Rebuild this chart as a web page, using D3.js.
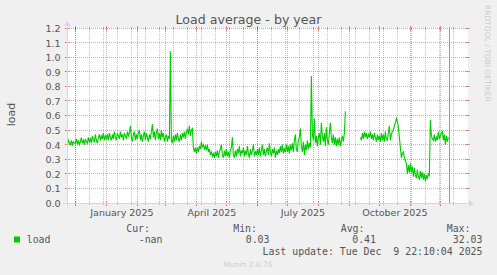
<!DOCTYPE html>
<html>
<head>
<meta charset="utf-8">
<script src="https://cdnjs.cloudflare.com/ajax/libs/d3/7.8.5/d3.min.js"></script>
<style>
  body { margin: 0; background: #f0f0f0; }
  svg { display: block; }
  text { font-family: "DejaVu Sans", sans-serif; fill: #555; }
  text.mono { font-family: "DejaVu Sans Mono", monospace; white-space: pre; }
</style>
</head>
<body>
<div id="chart"></div>
<script>
// daily load average, one array per month (null = no data)
const nov2024 = [0.44, 0.40, 0.43, 0.41, 0.40, 0.43, 0.40, 0.42, 0.41]; // from the 22nd
const dec2024 = [0.41, 0.44, 0.40, 0.43, 0.40, 0.42, 0.45, 0.41, 0.43, 0.40, 0.44, 0.42, 0.41, 0.45, 0.42,
  0.44, 0.41, 0.46, 0.43, 0.42, 0.47, 0.43, 0.41, 0.45, 0.47, 0.43, 0.46, 0.44, 0.48, 0.43, 0.46];
const jan2025 = [0.44, 0.47, 0.43, 0.48, 0.45, 0.43, 0.47, 0.44, 0.49, 0.45, 0.43, 0.48, 0.46, 0.44, 0.49,
  0.45, 0.47, 0.43, 0.48, 0.46, 0.44, 0.49, 0.46, 0.48, 0.53, 0.45, 0.42, 0.47, 0.49, 0.43, 0.47];
const feb2025 = [0.44, 0.48, 0.50, 0.43, 0.47, 0.42, 0.46, 0.49, 0.43, 0.48, 0.45, 0.42, 0.47, 0.44,
  0.49, 0.54, 0.45, 0.49, 0.43, 0.48, 0.51, 0.44, 0.48, 0.43, 0.50, 0.45, 0.48, 0.42];
const mar2025 = [0.45, 0.47, 0.42, 0.46, 0.44, 1.04, 0.43, 0.41, 0.46, 0.42, 0.47, 0.43, 0.48, 0.44, 0.42,
  0.47, 0.43, 0.48, 0.45, 0.49, 0.44, 0.48, 0.51, 0.47, 0.53, 0.46, 0.50, 0.51, 0.38, 0.35, 0.38];
const apr2025 = [0.34, 0.38, 0.35, 0.39, 0.37, 0.42, 0.38, 0.40, 0.37, 0.39, 0.36, 0.40, 0.35, 0.37, 0.33,
  0.35, 0.32, 0.34, 0.31, 0.35, 0.32, 0.36, 0.31, 0.35, 0.37, 0.40, 0.33, 0.31, 0.36, 0.32];
const may2025 = [0.37, 0.32, 0.35, 0.31, 0.36, 0.38, 0.45, 0.33, 0.31, 0.36, 0.32, 0.37, 0.34, 0.39, 0.32,
  0.36, 0.34, 0.38, 0.32, 0.36, 0.33, 0.39, 0.34, 0.31, 0.37, 0.33, 0.36, 0.40, 0.32, 0.35, 0.33];
const jun2025 = [0.37, 0.33, 0.38, 0.32, 0.36, 0.40, 0.33, 0.37, 0.32, 0.36, 0.38, 0.33, 0.41, 0.35, 0.32,
  0.37, 0.34, 0.38, 0.31, 0.36, 0.33, 0.37, 0.34, 0.39, 0.35, 0.40, 0.34, 0.37, 0.35, 0.40];
const jul2025 = [0.35, 0.39, 0.34, 0.40, 0.36, 0.41, 0.35, 0.43, 0.47, 0.37, 0.35, 0.43, 0.45, 0.51, 0.39,
  0.35, 0.42, 0.33, 0.40, 0.36, 0.43, 0.37, 0.41, 0.38, 0.87, 0.47, 0.43, 0.58, 0.41, 0.46, 0.39];
const aug2025 = [0.45, 0.48, 0.40, 0.55, 0.46, 0.42, 0.48, 0.39, 0.52, 0.43, 0.40, 0.48, 0.55, 0.45, 0.41,
  0.47, 0.40, 0.45, 0.39, 0.44, 0.40, 0.45, 0.39, 0.43, 0.46, 0.42, 0.48, 0.63, null, null, null];
const sep2025 = [null, null, null, null, null, null, null, null, null, null, null, 0.45, 0.43, 0.48, 0.44,
  0.49, 0.45, 0.48, 0.44, 0.47, 0.45, 0.49, 0.44, 0.47, 0.43, 0.48, 0.45, 0.42, 0.47, 0.43];
const oct2025 = [0.46, 0.42, 0.48, 0.43, 0.47, 0.42, 0.49, 0.44, 0.43, 0.48, 0.53, 0.43, 0.47, 0.49, 0.50,
  0.53, 0.55, 0.58, 0.56, 0.52, 0.45, 0.38, 0.31, 0.34, 0.35, 0.31, 0.29, 0.27, 0.20, 0.26, 0.21];
const nov2025 = [0.27, 0.21, 0.25, 0.18, 0.24, 0.19, 0.17, 0.23, 0.18, 0.16, 0.22, 0.17, 0.21, 0.16, 0.20,
  0.15, 0.19, 0.17, 0.20, 0.19, 0.57, 0.46, 0.44, 0.43, 0.47, 0.42, 0.45, 0.43, 0.49, 0.44];
const dec2025 = [0.46, 0.48, 0.49, 0.43, 0.47, 0.40, 0.46, 0.42, 0.45];

const monthStarts = [
  [new Date(2024, 10, 22), nov2024], [new Date(2024, 11, 1), dec2024],
  [new Date(2025, 0, 1), jan2025], [new Date(2025, 1, 1), feb2025],
  [new Date(2025, 2, 1), mar2025], [new Date(2025, 3, 1), apr2025],
  [new Date(2025, 4, 1), may2025], [new Date(2025, 5, 1), jun2025],
  [new Date(2025, 6, 1), jul2025], [new Date(2025, 7, 1), aug2025],
  [new Date(2025, 8, 1), sep2025], [new Date(2025, 9, 1), oct2025],
  [new Date(2025, 10, 1), nov2025], [new Date(2025, 11, 1), dec2025]
];

const yTicks = [0, 0.1, 0.2, 0.3, 0.4, 0.5, 0.6, 0.7, 0.8, 0.9, 1.0, 1.1, 1.2];
const labelMonths = [new Date(2025, 0, 1), new Date(2025, 3, 1), new Date(2025, 6, 1), new Date(2025, 9, 1)];
const legendHead = ['Cur:', 'Min:', 'Avg:', 'Max:'];
const legendVals = ['-nan', '0.03', '0.41', '32.03'];
const lastUpdate = 'Last update: Tue Dec  9 22:10:04 2025';
const now = new Date(2025, 11, 9, 22, 10, 4);

const W = 497, H = 275;
const X0 = 67, X1 = 467, Y0 = 203, Y1 = 28;
const dayMs = 864e5;
const xStart = new Date(+now - 382.3 * dayMs);
const xEnd = new Date(+xStart + 400 * dayMs);

const data = [];
monthStarts.forEach(([start, vals]) => {
  vals.forEach((v, i) => data.push({ date: d3.timeDay.offset(start, i), value: v }));
});

const x = d3.scaleTime().domain([xStart, xEnd]).range([X0, X1]);
const y = d3.scaleLinear().domain([0, 1.2]).range([Y0, Y1]);
const snap = (v) => Math.floor(v) + 0.5;

const svg = d3.select('#chart').append('svg')
  .attr('width', W).attr('height', H);

svg.append('rect').attr('width', W).attr('height', H).attr('fill', '#f0f0f0');
svg.append('rect')
  .attr('x', X0).attr('y', Y1).attr('width', X1 - X0 + 1).attr('height', Y0 - Y1 + 1)
  .attr('fill', '#ffffff');

const minorCol = 'rgba(143,143,143,0.55)';
const majorCol = 'rgba(229,0,0,0.38)';

// minor vertical grid, every two weeks
const minorDates = d3.timeWeek.range(new Date(2024, 10, 17), xEnd, 2).filter(d => d > xStart);
const gMinor = svg.append('g');
minorDates.forEach(d => {
  const px = snap(x(d));
  gMinor.append('line').attr('x1', px).attr('x2', px).attr('y1', Y0 + 1).attr('y2', Y1 - 1)
    .attr('stroke', minorCol).attr('stroke-dasharray', '1,1');
  gMinor.append('line').attr('x1', px).attr('x2', px).attr('y1', Y0 - 1).attr('y2', Y0 + 2)
    .attr('stroke', minorCol);
  gMinor.append('line').attr('x1', px).attr('x2', px).attr('y1', Y1 - 1).attr('y2', Y1 + 2)
    .attr('stroke', minorCol);
});

// major vertical grid, monthly
const majorDates = d3.timeMonth.range(xStart, xEnd);
const gMajor = svg.append('g');
majorDates.forEach(d => {
  const px = snap(x(d));
  gMajor.append('line').attr('x1', px).attr('x2', px).attr('y1', Y0 + 3).attr('y2', Y1 - 2)
    .attr('stroke', majorCol).attr('stroke-dasharray', '1,1');
  gMajor.append('line').attr('x1', px).attr('x2', px).attr('y1', Y0 - 2).attr('y2', Y0 + 3)
    .attr('stroke', majorCol);
  gMajor.append('line').attr('x1', px).attr('x2', px).attr('y1', Y1 - 2).attr('y2', Y1 + 3)
    .attr('stroke', majorCol);
});

// horizontal grid
yTicks.forEach(t => {
  const py = snap(y(t));
  gMajor.append('line').attr('x1', X0 - 2).attr('x2', X1 + 2).attr('y1', py).attr('y2', py)
    .attr('stroke', majorCol).attr('stroke-dasharray', '1,1');
  gMajor.append('line').attr('x1', X0 - 2).attr('x2', X0 + 3).attr('y1', py).attr('y2', py)
    .attr('stroke', majorCol);
  gMajor.append('line').attr('x1', X1 - 2).attr('x2', X1 + 3).attr('y1', py).attr('y2', py)
    .attr('stroke', majorCol);
});

// y labels
const yAxis = svg.append('g')
  .attr('transform', `translate(${X0},0)`)
  .call(d3.axisLeft(y).tickValues(yTicks).tickFormat(d3.format('.1f')).tickSize(0).tickPadding(6.5));
yAxis.select('.domain').remove();
yAxis.selectAll('text')
  .attr('font-family', '"DejaVu Sans", sans-serif').attr('font-size', '9.5px')
  .attr('fill', '#555').attr('dy', '0.36em');

// x labels, placed mid-month like rrdtool
svg.append('g').selectAll('text')
  .data(labelMonths)
  .join('text')
    .attr('x', d => x(d3.timeHour.offset(d, 372)))
    .attr('y', 216)
    .attr('text-anchor', 'middle')
    .attr('font-size', '9.5px')
    .text(d3.timeFormat('%B %Y'));

// the series
svg.append('clipPath').attr('id', 'plot-clip')
  .append('rect').attr('x', X0).attr('y', Y1).attr('width', X1 - X0).attr('height', Y0 - Y1);

const line = d3.line()
  .defined(d => d.value != null)
  .x(d => x(d.date))
  .y(d => y(d.value));

svg.append('path')
  .datum(data)
  .attr('clip-path', 'url(#plot-clip)')
  .attr('fill', 'none')
  .attr('stroke', '#00cc00')
  .attr('stroke-width', 1.1)
  .attr('d', line);

// now marker
const nx = snap(x(now));
svg.append('line').attr('x1', nx).attr('x2', nx).attr('y1', Y1 - 1).attr('y2', Y0)
  .attr('stroke', '#999');

// axes with arrows
const axisCol = '#cfd6f8';
svg.append('line').attr('x1', X0 - 4).attr('x2', X1 + 4).attr('y1', Y0 + 0.5).attr('y2', Y0 + 0.5)
  .attr('stroke', axisCol);
svg.append('line').attr('x1', X0 + 0.5).attr('x2', X0 + 0.5).attr('y1', Y0 + 4).attr('y2', Y1 - 4)
  .attr('stroke', axisCol);
svg.append('path')
  .attr('d', `M${X1 + 2},${Y0 - 3} L${X1 + 7},${Y0 + 0.5} L${X1 + 2},${Y0 + 4} Z`)
  .attr('fill', axisCol);
svg.append('path')
  .attr('d', `M${X0 - 3},${Y1 - 2} L${X0 + 0.5},${Y1 - 7} L${X0 + 4},${Y1 - 2} Z`)
  .attr('fill', axisCol);

// title and axis title
svg.append('text')
  .attr('x', 248.5).attr('y', 23.5)
  .attr('text-anchor', 'middle')
  .attr('font-size', '12.6px')
  .text('Load average - by year');

svg.append('text')
  .attr('transform', 'translate(15,114.5) rotate(-90)')
  .attr('text-anchor', 'middle')
  .attr('font-size', '11px')
  .text('load');

svg.append('text')
  .attr('transform', 'translate(485,5) rotate(90)')
  .attr('font-size', '7.5px')
  .style('fill', '#cccccc')
  .text('RRDTOOL / TOBI OETIKER');

// legend
svg.append('rect').attr('x', 14).attr('y', 236.5).attr('width', 6).attr('height', 6)
  .attr('fill', '#00cc00');

const headX = [150, 257, 364.5, 470.5];
const valX = [162.5, 269.5, 376, 482.5];
svg.append('g').selectAll('text')
  .data(legendHead)
  .join('text')
    .attr('class', 'mono')
    .attr('x', (d, i) => headX[i]).attr('y', 231.5)
    .attr('text-anchor', 'end')
    .attr('font-size', '9.9px')
    .text(d => d);

svg.append('g').selectAll('text')
  .data(legendVals)
  .join('text')
    .attr('class', 'mono')
    .attr('x', (d, i) => valX[i]).attr('y', 243)
    .attr('text-anchor', 'end')
    .attr('font-size', '9.9px')
    .text(d => d);

svg.append('text')
  .attr('class', 'mono')
  .attr('x', 26.7).attr('y', 243)
  .attr('font-size', '9.9px')
  .text('load');

svg.append('text')
  .attr('class', 'mono')
  .attr('x', 482.5).attr('y', 254.5)
  .attr('text-anchor', 'end')
  .attr('font-size', '9.9px')
  .text(lastUpdate);

svg.append('text')
  .attr('x', 248).attr('y', 267)
  .attr('text-anchor', 'middle')
  .attr('font-size', '7.5px')
  .style('fill', '#cccccc')
  .text('Munin 2.0.76');
</script>
</body>
</html>
